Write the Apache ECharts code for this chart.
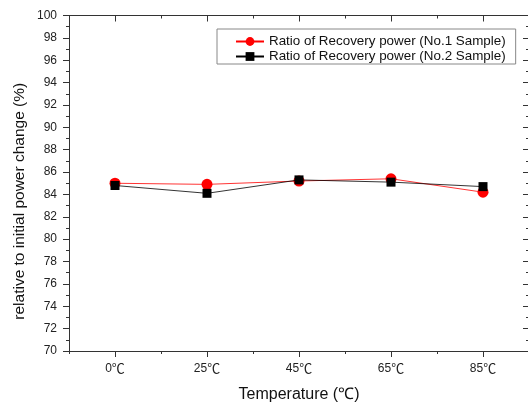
<!DOCTYPE html>
<html><head><meta charset="utf-8">
<script src="https://cdn.jsdelivr.net/npm/echarts@6/dist/echarts.min.js"></script>
<style>html,body{margin:0;padding:0;background:#fff}#c{width:528px;height:405px}</style>
</head><body><div id="c"></div>
<script>
var categories = ['0℃', '25℃', '45℃', '65℃', '85℃'];
var sample1 = [85.0, 84.9, 85.2, 85.4, 84.2];
var sample2 = [84.8, 84.1, 85.3, 85.1, 84.7];
var seriesNames = ['Ratio of Recovery power (No.1 Sample)', 'Ratio of Recovery power (No.2 Sample)'];
var yMin = 70, yMax = 100, yStep = 2;

var font = '"Liberation Sans", Arial, sans-serif';
var cjk = '"Noto Sans CJK SC", sans-serif';
var axisColor = '#333';
var chart = echarts.init(document.getElementById('c'));
function splitDeg(s) {
  var i = s.indexOf('℃');
  if (i < 0) return s;
  return '{n|' + s.slice(0, i) + '}{c|℃}' + (s.slice(i + 1) ? '{n|' + s.slice(i + 1) + '}' : '');
}
function catAxis(pos, main) {
  return {
    type: 'category', data: categories, position: pos, boundaryGap: true,
    axisLine: { show: main, onZero: false, lineStyle: { color: axisColor, width: 1 } },
    axisTick: { show: true, alignWithLabel: main, inside: pos === 'top', length: main ? 6 : 3, lineStyle: { color: axisColor } },
    axisLabel: {
      show: main && pos === 'bottom', color: '#222', fontSize: 12, margin: 11,
      formatter: function (v) { return splitDeg(v); },
      rich: { n: { fontSize: 12, fontFamily: font, color: '#222' }, c: { fontSize: 13, fontFamily: cjk, color: '#222' } }
    },
    splitLine: { show: false },
    name: (main && pos === 'bottom') ? 'Temperature (℃)' : '',
    nameLocation: 'middle', nameGap: 36,
    nameTextStyle: { fontSize: 16, color: '#111', fontFamily: font }
  };
}
chart.setOption({
  animation: false,
  backgroundColor: '#fff',
  grid: { left: 69, top: 15.5, width: 460, height: 335.5, containLabel: false, outerBoundsMode: 'none' },
  legend: {
    orient: 'vertical', left: 217, top: 29,
    data: seriesNames,
    backgroundColor: '#fff', borderColor: '#888', borderWidth: 1,
    padding: [6, 10, 1, 18], itemGap: 2, itemWidth: 28, itemHeight: 11,
    textStyle: { fontSize: 13.4, color: '#111', fontFamily: font }
  },
  xAxis: [catAxis('bottom', true), catAxis('bottom', false), catAxis('top', true), catAxis('top', false)],
  yAxis: [{
    type: 'value', min: yMin, max: yMax, interval: yStep, position: 'left',
    axisLine: { show: true, lineStyle: { color: axisColor, width: 1 } },
    axisTick: { show: true, length: 6, lineStyle: { color: axisColor } },
    minorTick: { show: true, splitNumber: 2, length: 3, lineStyle: { color: axisColor } },
    axisLabel: { color: '#222', fontSize: 12, fontFamily: font, margin: 12 },
    splitLine: { show: false },
    name: 'relative to initial power change (%)', nameLocation: 'middle', nameGap: 41,
    nameMoveOverlap: false,
    nameTextStyle: { fontSize: 15.5, color: '#111', fontFamily: font, padding: [0, 36, 0, 0] }
  }, {
    type: 'value', min: yMin, max: yMax, interval: yStep, position: 'right',
    axisLine: { show: true, lineStyle: { color: axisColor, width: 1 } },
    axisTick: { show: true, inside: true, length: 6, lineStyle: { color: axisColor } },
    minorTick: { show: true, splitNumber: 2, length: 3, lineStyle: { color: axisColor } },
    axisLabel: { show: false }, splitLine: { show: false }
  }],
  series: [{
    name: seriesNames[0], type: 'line', data: sample1, xAxisIndex: 0, yAxisIndex: 0,
    symbol: 'circle', symbolSize: 11,
    itemStyle: { color: '#ff0000' }, lineStyle: { color: '#ff0000', width: 0.8 }, z: 2
  }, {
    name: seriesNames[1], type: 'line', data: sample2, xAxisIndex: 0, yAxisIndex: 0,
    symbol: 'rect', symbolSize: 9,
    itemStyle: { color: '#000' }, lineStyle: { color: '#000', width: 0.8 }, z: 3
  }]
});
</script></body></html>
